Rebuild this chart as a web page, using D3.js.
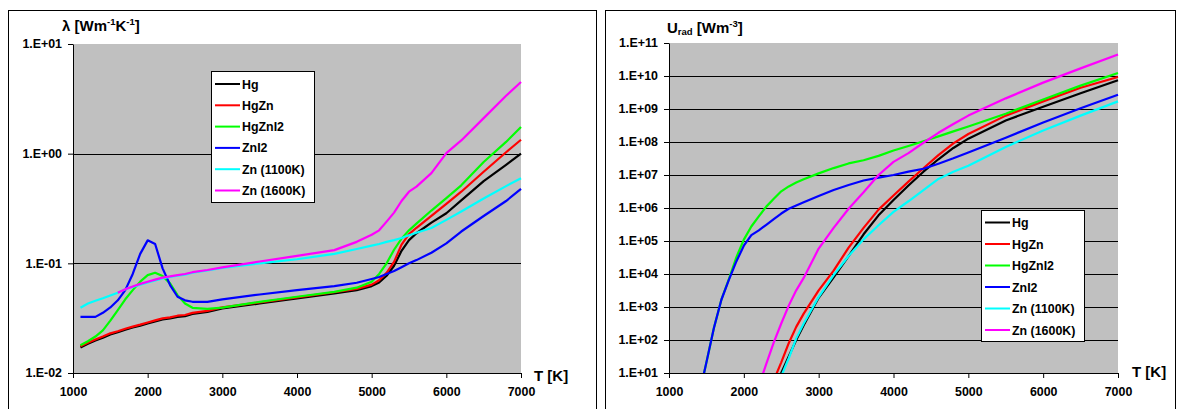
<!DOCTYPE html>
<html>
<head>
<meta charset="utf-8">
<script src="https://cdn.jsdelivr.net/npm/d3@7"></script>
<style>
  html, body { margin: 0; padding: 0; background: #fff; }
  svg { display: block; }
  text { font-family: "Liberation Sans", Arial, sans-serif; font-weight: bold; fill: #000; }
</style>
</head>
<body>
<svg id="chart" width="1179" height="409"></svg>
<script>
// ---- Thermal conductivity (left panel) ----
const tempLeft = [1100,1200,1300,1400,1500,1600,1700,1800,1900,2000,2100,2200,2300,2400,2500,2600,2800,3000,3500,4000,4500,4800,5000,5100,5200,5300,5400,5500,5600,5800,6000,6200,6500,6800,7000];
const lambdaHg =     [0.0171,0.0185,0.0198,0.021,0.0225,0.0235,0.0248,0.026,0.027,0.0283,0.0295,0.0308,0.0315,0.0325,0.033,0.0345,0.036,0.0388,0.043,0.0479,0.0532,0.057,0.062,0.067,0.077,0.095,0.13,0.163,0.188,0.235,0.286,0.375,0.562,0.79,1.0];
const lambdaHgZn =   [0.0175,0.0189,0.0202,0.0215,0.023,0.024,0.0253,0.0265,0.0276,0.0289,0.0302,0.0315,0.0322,0.0333,0.0338,0.0353,0.0369,0.0397,0.044,0.049,0.0545,0.0585,0.064,0.07,0.082,0.103,0.148,0.185,0.211,0.271,0.348,0.45,0.684,1.03,1.34];
const lambdaHgZnI2 = [0.0179,0.0195,0.0215,0.0245,0.03,0.0374,0.047,0.057,0.068,0.078,0.082,0.0765,0.0657,0.0513,0.043,0.0393,0.0385,0.0395,0.0445,0.0496,0.055,0.06,0.068,0.08,0.1,0.133,0.168,0.2,0.23,0.303,0.393,0.514,0.84,1.28,1.75];
const lambdaZnI2 =   [0.0325,0.0325,0.0325,0.0354,0.0396,0.046,0.057,0.08,0.122,0.162,0.15,0.09,0.0634,0.0496,0.046,0.0446,0.0445,0.047,0.052,0.057,0.062,0.0665,0.072,0.075,0.08,0.085,0.092,0.1,0.107,0.125,0.152,0.195,0.27,0.37,0.477];
const lambdaZn1100 = [0.0393,0.043,0.0455,0.048,0.051,0.054,0.058,0.061,0.064,0.067,0.07,0.073,0.075,0.077,0.079,0.082,0.086,0.091,0.1,0.109,0.122,0.135,0.145,0.15,0.157,0.163,0.17,0.18,0.19,0.21,0.249,0.297,0.39,0.506,0.598];
const lambdaZn1600 = [null,null,null,null,null,0.054,0.058,0.0615,0.065,0.068,0.071,0.074,0.076,0.078,0.08,0.083,0.087,0.092,0.104,0.117,0.132,0.157,0.182,0.2,0.24,0.29,0.37,0.45,0.5,0.665,1.01,1.32,2.11,3.37,4.5];
const leftTicks = [0.01, 0.1, 1, 10];
const leftTickLabels = ["1.E-02", "1.E-01", "1.E+00", "1.E+01"];

// ---- Radiation energy density (right panel) ----
const tempRight = [1400,1500,1600,1700,1800,1900,2000,2100,2200,2300,2400,2500,2600,2700,2800,3000,3200,3400,3600,3800,4000,4200,4400,4600,4800,5000,5500,6000,6500,7000];
const uradHg =     [null,null,null,null,null,null,null,null,null,null,2.5,10,32,100,280,1.9e3,7.9e3,3.5e4,1.6e5,6e5,1.74e6,4.8e6,1.26e7,3e7,6.6e7,1.26e8,4.5e8,1.17e9,3e9,7.4e9];
const uradHgZn =   [null,null,null,null,null,null,null,null,null,null,6,21,80,250,630,3.2e3,1.26e4,6.3e4,2.5e5,8.9e5,2.4e6,6.3e6,1.6e7,4e7,9.1e7,1.75e8,6.3e8,1.7e9,4.4e9,9.3e9];
const uradHgZnI2 = [2,21,230,1.66e3,7e3,3.2e4,1.1e5,2.75e5,5.6e5,1.1e6,1.9e6,3.2e6,4.5e6,5.9e6,7.4e6,1.12e7,1.62e7,2.24e7,2.8e7,3.8e7,5.5e7,7.6e7,1.05e8,1.48e8,2.1e8,2.95e8,7.2e8,1.95e9,5.1e9,1.23e10];
const uradZnI2 =   [2,21,230,1.66e3,6.6e3,2.4e4,7.2e4,1.5e5,2.1e5,3.1e5,4.6e5,6.8e5,9.5e5,1.2e6,1.5e6,2.3e6,3.5e6,5e6,6.8e6,8.3e6,1e7,1.26e7,1.55e7,2.2e7,3.2e7,4.8e7,1.35e8,3.9e8,1.05e9,2.7e9];
const uradZn1100 = [null,null,null,null,null,null,null,null,null,null,null,8,28,112,316,2e3,9.3e3,3.5e4,1.12e5,3e5,7.6e5,1.6e6,3.5e6,7.6e6,1.26e7,1.9e7,7.1e7,2.24e8,6.3e8,1.7e9];
const uradZn1600 = [null,null,null,null,null,null,null,null,4,19,85,316,1.1e3,3.2e3,7.6e3,5.9e4,2.5e5,9.5e5,3e6,1e7,2.5e7,4.6e7,9.5e7,1.9e8,3.5e8,6.3e8,2.1e9,6.3e9,1.7e10,4.5e10];
const rightTicks = [1e1,1e2,1e3,1e4,1e5,1e6,1e7,1e8,1e9,1e10,1e11];
const rightTickLabels = ["1.E+01","1.E+02","1.E+03","1.E+04","1.E+05","1.E+06","1.E+07","1.E+08","1.E+09","1.E+10","1.E+11"];

const tempTicks = [1000,2000,3000,4000,5000,6000,7000];
const seriesNames = ["Hg", "HgZn", "HgZnI2", "ZnI2", "Zn (1100K)", "Zn (1600K)"];
const seriesColors = ["#000000", "#ff0000", "#00ff00", "#0000ff", "#00ffff", "#ff00ff"];

const svg = d3.select("#chart");

function drawPanel(cfg) {
  const g = svg.append("g");

  // outer frame
  g.append("rect")
    .attr("x", cfg.frame[0] + 0.5).attr("y", cfg.frame[1] + 0.5)
    .attr("width", cfg.frame[2]).attr("height", cfg.frame[3])
    .attr("fill", "#fff").attr("stroke", "#000").attr("stroke-width", 1);

  const x = d3.scaleLinear().domain([1000, 7000]).range([cfg.plot.x0, cfg.plot.x1]);
  const y = d3.scaleLog().domain(cfg.yDomain).range([cfg.plot.y1, cfg.plot.y0]);

  // plot area
  g.append("rect")
    .attr("x", cfg.plot.x0).attr("y", cfg.plot.y0)
    .attr("width", cfg.plot.x1 - cfg.plot.x0).attr("height", cfg.plot.y1 - cfg.plot.y0)
    .attr("fill", "#c0c0c0");

  // horizontal gridlines at each decade
  g.append("g").selectAll("line")
    .data(cfg.yTicks.slice(1, -1))
    .join("line")
    .attr("x1", cfg.plot.x0).attr("x2", cfg.plot.x1)
    .attr("y1", d => Math.round(y(d)) + 0.5).attr("y2", d => Math.round(y(d)) + 0.5)
    .attr("stroke", "#000").attr("stroke-width", 1);

  // axes
  const yAxis = d3.axisLeft(y)
    .tickValues(cfg.yTicks)
    .tickFormat((d, i) => cfg.yLabels[i])
    .tickSizeInner(5).tickSizeOuter(0).tickPadding(6);
  const gy = g.append("g").attr("transform", `translate(${cfg.plot.x0},0)`).call(yAxis);
  gy.selectAll("text").attr("font-size", "12.4px");
  gy.selectAll("path,line").attr("stroke", "#000");

  const xAxis = d3.axisBottom(x)
    .tickValues(tempTicks)
    .tickFormat(d3.format("d"))
    .tickSizeInner(5).tickSizeOuter(0).tickPadding(9);
  const gx = g.append("g").attr("transform", `translate(0,${cfg.plot.y1})`).call(xAxis);
  gx.selectAll("text").attr("font-size", "12.4px");
  gx.selectAll("path,line").attr("stroke", "#000");
  svg.selectAll(".domain").attr("stroke", "#000");

  // data lines
  const clipId = cfg.id + "-clip";
  g.append("clipPath").attr("id", clipId)
    .append("rect")
    .attr("x", cfg.plot.x0).attr("y", cfg.plot.y0 - 1)
    .attr("width", cfg.plot.x1 - cfg.plot.x0 + 1).attr("height", cfg.plot.y1 - cfg.plot.y0 + 1);

  const line = d3.line()
    .defined(d => d.v != null)
    .x(d => x(d.t))
    .y(d => y(d.v));

  const lines = g.append("g").attr("clip-path", `url(#${clipId})`);
  cfg.series.forEach((vals, i) => {
    const pts = cfg.temps.map((t, k) => ({ t, v: vals[k] }));
    lines.append("path")
      .datum(pts)
      .attr("d", line)
      .attr("fill", "none")
      .attr("stroke", seriesColors[i])
      .attr("stroke-width", 2.2)
      .attr("stroke-linejoin", "round");
  });

  // legend
  const L = cfg.legend;
  const lg = g.append("g");
  lg.append("rect")
    .attr("x", L.x + 0.5).attr("y", L.y + 0.5)
    .attr("width", L.w).attr("height", L.h)
    .attr("fill", "#fff").attr("stroke", "#000").attr("stroke-width", 1);
  seriesNames.forEach((name, i) => {
    const yy = L.y + L.first + i * L.step;
    lg.append("line")
      .attr("x1", L.x + 4).attr("x2", L.x + 29)
      .attr("y1", yy).attr("y2", yy)
      .attr("stroke", seriesColors[i]).attr("stroke-width", 2);
    lg.append("text")
      .attr("x", L.x + 31).attr("y", yy + 4.5)
      .attr("font-size", "12.4px")
      .text(name);
  });

  // axis title T [K]
  g.append("text")
    .attr("x", cfg.tTitle[0]).attr("y", cfg.tTitle[1])
    .attr("font-size", "15px")
    .text("T [K]");

  return g;
}

const left = drawPanel({
  id: "lambda",
  frame: [8, 10, 588, 420],
  plot: { x0: 73, x1: 521, y0: 44, y1: 373 },
  yDomain: [0.01, 10],
  yTicks: leftTicks,
  yLabels: leftTickLabels,
  temps: tempLeft,
  series: [lambdaHg, lambdaHgZn, lambdaHgZnI2, lambdaZnI2, lambdaZn1100, lambdaZn1600],
  legend: { x: 211, y: 71, w: 103, h: 131, first: 13, step: 21.3 },
  tTitle: [534, 381]
});

const right = drawPanel({
  id: "urad",
  frame: [605, 10, 570, 420],
  plot: { x0: 669, x1: 1118, y0: 43, y1: 373 },
  yDomain: [1e1, 1e11],
  yTicks: rightTicks,
  yLabels: rightTickLabels,
  temps: tempRight,
  series: [uradHg, uradHgZn, uradHgZnI2, uradZnI2, uradZn1100, uradZn1600],
  legend: { x: 981, y: 210, w: 103, h: 131, first: 12.5, step: 21.5 },
  tTitle: [1132, 377]
});

// panel titles
const t1 = left.append("text").attr("x", 62).attr("y", 31).attr("font-size", "15px");
t1.append("tspan").text("λ [Wm");
t1.append("tspan").attr("font-size", "9.5px").attr("dy", -6).text("-1");
t1.append("tspan").attr("dy", 6).text("K");
t1.append("tspan").attr("font-size", "9.5px").attr("dy", -6).text("-1");
t1.append("tspan").attr("dy", 6).text("]");

const t2 = right.append("text").attr("x", 667).attr("y", 33).attr("font-size", "15px");
t2.append("tspan").text("U");
t2.append("tspan").attr("font-size", "9.5px").attr("dy", 2).text("rad");
t2.append("tspan").attr("dy", -2).text(" [Wm");
t2.append("tspan").attr("font-size", "9.5px").attr("dy", -6).text("-3");
t2.append("tspan").attr("dy", 6).text("]");
</script>
</body>
</html>
